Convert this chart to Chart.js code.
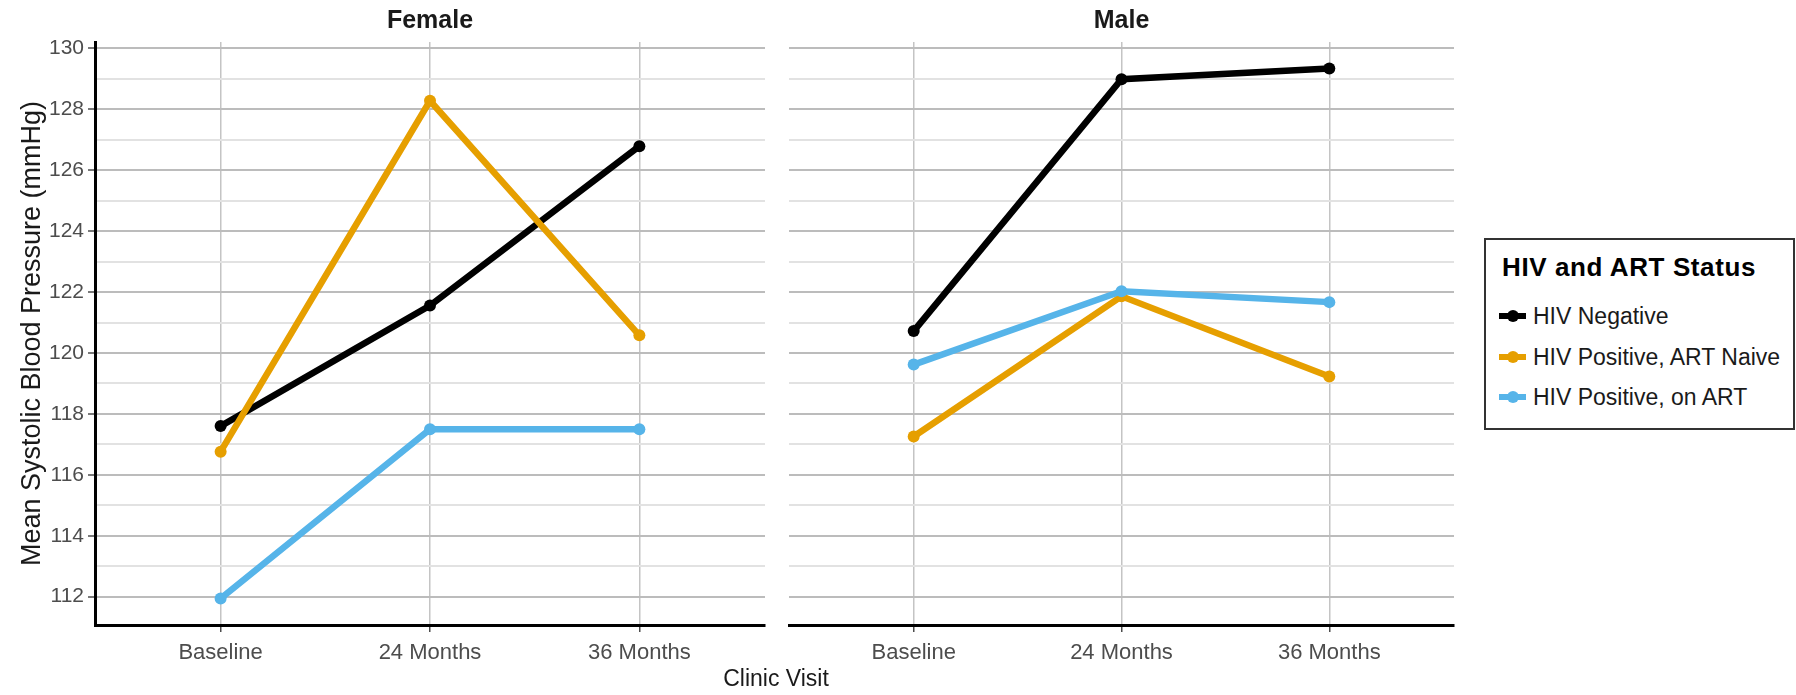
<!DOCTYPE html>
<html>
<head>
<meta charset="utf-8">
<title>Mean Systolic Blood Pressure by Clinic Visit</title>
<script src="https://cdn.jsdelivr.net/npm/chart.js@4.4.1/dist/chart.umd.min.js"></script>
<style>
  html, body { margin: 0; padding: 0; background: #ffffff; }
  body { width: 1796px; height: 695px; position: relative; overflow: hidden;
         font-family: "Liberation Sans", Arial, sans-serif; }
  canvas { position: absolute; top: 0; }
  #female { left: 0; }
  #male { left: 783px; }
  #xtitle { position: absolute; left: 0; width: 1552px; top: 663px; text-align: center;
            font-size: 23px; line-height: 30px; color: #1a1a1a; }
  #legend { position: absolute; left: 1484px; top: 238px; width: 311px; height: 192px;
            box-sizing: border-box; border: 2px solid #333333; background: #ffffff; }
  #legend .ltitle { position: absolute; left: 16px; top: 12px; font-size: 26px; font-weight: bold;
                    letter-spacing: 0.6px; line-height: 30px; color: #000000; white-space: nowrap; }
  #legend .item { position: absolute; left: 0; height: 28px; line-height: 28px; font-size: 23px;
                  color: #1a1a1a; white-space: nowrap; padding-left: 47px; }
  #legend .key { position: absolute; left: 13px; top: 11px; width: 27px; height: 6px; }
  #legend .dot { position: absolute; left: 21px; top: 8px; width: 12px; height: 12px; border-radius: 50%; }
</style>
</head>
<body>
<canvas id="female" width="771" height="695"></canvas>
<canvas id="male" width="677" height="695"></canvas>
<div id="xtitle">Clinic Visit</div>
<div id="legend"></div>

<script>
// Clinic visits on the x axis
const visits = ['Baseline', '24 Months', '36 Months'];

// HIV / ART status groups and their colours
const groups = ['HIV Negative', 'HIV Positive, ART Naive', 'HIV Positive, on ART'];
const groupColors = ['#000000', '#E69F00', '#56B4E9'];

// Mean systolic blood pressure (mmHg), female participants
const femaleNegative = [117.60, 121.56, 126.79];
const femaleNaive    = [116.76, 128.28, 120.58];
const femaleOnArt    = [111.94, 117.50, 117.50];

// Mean systolic blood pressure (mmHg), male participants
const maleNegative = [120.72, 128.99, 129.34];
const maleNaive    = [117.26, 121.86, 119.23];
const maleOnArt    = [119.62, 122.03, 121.67];

// Labelled y ticks; a light minor line sits halfway between each pair
const yTickLabels = [112, 114, 116, 118, 120, 122, 124, 126, 128, 130];
const yMin = 111.07;
const yMax = 130.21;

const yGridValues = [];
yTickLabels.forEach((v, i) => {
  yGridValues.push(v);
  if (i < yTickLabels.length - 1) yGridValues.push((v + yTickLabels[i + 1]) / 2);
});

const MAJOR_GRID = '#bcbcbc';
const MINOR_GRID = '#e2e2e2';
const TICK_TEXT = '#4d4d4d';
const FONT = '"Liberation Sans", Arial, sans-serif';

function isMajor(value) {
  return yTickLabels.indexOf(value) !== -1;
}

function makeDatasets(series) {
  // series order: negative, naive, on ART; later groups are drawn on top
  return series.map((values, g) => ({
    label: groups[g],
    data: values.map((v, i) => ({ x: i + 1, y: v })),
    borderColor: groupColors[g],
    backgroundColor: groupColors[g],
    borderWidth: 6.5,
    pointRadius: 6,
    pointBorderWidth: 0,
    pointHoverRadius: 6,
    tension: 0,
    order: series.length - g
  }));
}

function makePanel(canvasId, panelTitle, series, withYAxis) {
  const ctx = document.getElementById(canvasId);
  return new Chart(ctx, {
    type: 'line',
    data: { datasets: makeDatasets(series) },
    options: {
      responsive: false,
      animation: false,
      events: [],
      layout: { padding: { left: 0, right: withYAxis ? 0 : 1, top: 0, bottom: 0 } },
      plugins: {
        legend: { display: false },
        tooltip: { enabled: false },
        title: {
          display: true,
          text: panelTitle,
          fullSize: false,
          color: '#1a1a1a',
          font: { family: FONT, size: 25, weight: 'bold', lineHeight: 1.2 },
          padding: { top: 6, bottom: 6 }
        }
      },
      scales: {
        x: {
          type: 'linear',
          min: 0.4,
          max: 3.6,
          afterBuildTicks: (scale) => {
            scale.ticks = visits.map((_, i) => ({ value: i + 1 }));
          },
          afterFit: (scale) => { scale.height = 70; },
          ticks: {
            autoSkip: false,
            maxRotation: 0,
            padding: 8,
            color: TICK_TEXT,
            font: { family: FONT, size: 22 },
            callback: (value) => visits[value - 1]
          },
          grid: {
            color: '#c4c4c4',
            lineWidth: 1.5,
            tickColor: '#4d4d4d',
            tickLength: 7,
            tickWidth: 1.5
          },
          border: { display: true, color: '#000000', width: 3 }
        },
        y: {
          type: 'linear',
          min: yMin,
          max: yMax,
          afterBuildTicks: (scale) => {
            scale.ticks = yGridValues.map(v => ({ value: v }));
          },
          afterFit: (scale) => { scale.width = withYAxis ? 95 : 0; },
          ticks: {
            display: withYAxis,
            autoSkip: false,
            padding: 4,
            color: TICK_TEXT,
            font: { family: FONT, size: 21 },
            callback: (value) => (isMajor(value) ? String(value) : '')
          },
          grid: {
            color: (c) => (c.tick && isMajor(c.tick.value) ? MAJOR_GRID : MINOR_GRID),
            lineWidth: 2,
            drawTicks: withYAxis,
            tickColor: (c) => (c.tick && isMajor(c.tick.value) ? '#4d4d4d' : 'rgba(0,0,0,0)'),
            tickLength: 7,
            tickWidth: 1.5
          },
          border: { display: withYAxis, color: '#000000', width: 3 },
          title: {
            display: withYAxis,
            text: 'Mean Systolic Blood Pressure (mmHg)',
            color: '#1a1a1a',
            font: { family: FONT, size: 27, lineHeight: 1.2 },
            padding: { top: 16, bottom: 0 }
          }
        }
      }
    }
  });
}

makePanel('female', 'Female', [femaleNegative, femaleNaive, femaleOnArt], true);
makePanel('male', 'Male', [maleNegative, maleNaive, maleOnArt], false);

// Legend for the status groups
const legend = document.getElementById('legend');
const ltitle = document.createElement('div');
ltitle.className = 'ltitle';
ltitle.textContent = 'HIV and ART Status';
legend.appendChild(ltitle);
const itemTops = [62, 103, 143];
groups.forEach((name, g) => {
  const item = document.createElement('div');
  item.className = 'item';
  item.style.top = itemTops[g] + 'px';
  const key = document.createElement('span');
  key.className = 'key';
  key.style.background = groupColors[g];
  const dot = document.createElement('span');
  dot.className = 'dot';
  dot.style.background = groupColors[g];
  item.appendChild(key);
  item.appendChild(dot);
  item.appendChild(document.createTextNode(name));
  legend.appendChild(item);
});
</script>
</body>
</html>
